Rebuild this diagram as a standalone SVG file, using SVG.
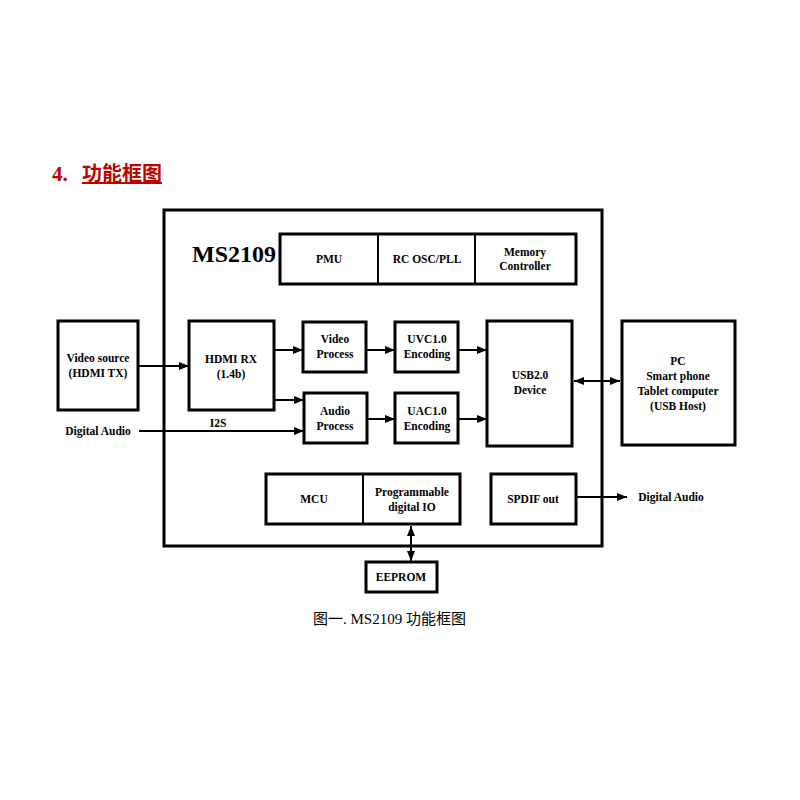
<svg xmlns="http://www.w3.org/2000/svg" width="800" height="800" viewBox="0 0 800 800">
<style>
.b{fill:#fff;stroke:#000;stroke-width:3}
.t{font-family:"Liberation Serif","Noto Sans CJK SC",serif;font-weight:bold;font-size:11.5px;text-anchor:middle;fill:#000}
.c{stroke:#000;stroke-width:2;fill:none}
</style>
<defs>
<marker id="a" viewBox="0 0 10 10" refX="10" refY="5" markerWidth="5" markerHeight="5" orient="auto-start-reverse"><path d="M0,1L10,5L0,9z" fill="#000"/></marker>
</defs>
<rect width="800" height="800" fill="#fff"/>
<text x="52" y="181" font-family="Liberation Serif,'Noto Sans CJK SC',serif" font-weight="bold" font-size="21" fill="#c00000">4.</text>
<text x="82" y="181" font-family="'Noto Sans CJK SC',serif" font-weight="bold" font-size="20" fill="#c00000" text-decoration="underline">功能框图</text>
<g id="chip"><rect class="b" x="164" y="210" width="438" height="336"/>
<text x="234" y="262" font-family="Liberation Serif,serif" font-weight="bold" font-size="24" text-anchor="middle">MS2109</text></g>
<g id="top"><rect class="b" x="280" y="234" width="296" height="50"/><line class="c" x1="378" y1="234" x2="378" y2="284" stroke-width="3"/><line class="c" x1="475" y1="234" x2="475" y2="284" stroke-width="3"/>
<text class="t" x="329" y="263">PMU</text><text class="t" x="427" y="263">RC OSC/PLL</text><text class="t" x="525" y="256">Memory</text><text class="t" x="525" y="270">Controller</text></g>
<g id="vsrc"><rect class="b" x="58" y="321" width="80" height="89"/><text class="t" x="98" y="362">Video source</text><text class="t" x="98" y="377">(HDMI TX)</text></g>
<g id="hdmi"><rect class="b" x="189" y="321" width="85" height="89"/><text class="t" x="231" y="363">HDMI RX</text><text class="t" x="231" y="378">(1.4b)</text></g>
<g id="vp"><rect class="b" x="303" y="322" width="63" height="50"/><text class="t" x="335" y="343">Video</text><text class="t" x="335" y="358">Process</text></g>
<g id="ap"><rect class="b" x="304" y="393" width="63" height="50"/><text class="t" x="335" y="415">Audio</text><text class="t" x="335" y="430">Process</text></g>
<g id="uvc"><rect class="b" x="395" y="322" width="63" height="50"/><text class="t" x="427" y="343">UVC1.0</text><text class="t" x="427" y="358">Encoding</text></g>
<g id="uac"><rect class="b" x="395" y="393" width="63" height="50"/><text class="t" x="427" y="415">UAC1.0</text><text class="t" x="427" y="430">Encoding</text></g>
<g id="usb"><rect class="b" x="487" y="321" width="85" height="125"/><text class="t" x="530" y="379">USB2.0</text><text class="t" x="530" y="394">Device</text></g>
<g id="pc"><rect class="b" x="622" y="321" width="113" height="124"/><text class="t" x="678" y="365">PC</text><text class="t" x="678" y="380">Smart phone</text><text class="t" x="678" y="395">Tablet computer</text><text class="t" x="678" y="410">(USB Host)</text></g>
<g id="mcu"><rect class="b" x="266" y="474" width="194" height="50"/><line class="c" x1="363" y1="474" x2="363" y2="524" stroke-width="3"/><text class="t" x="314" y="503">MCU</text><text class="t" x="412" y="496">Programmable</text><text class="t" x="412" y="511">digital IO</text></g>
<g id="spdif"><rect class="b" x="491" y="474" width="85" height="50"/><text class="t" x="533" y="503">SPDIF out</text></g>
<g id="eeprom"><rect class="b" x="366" y="562" width="71" height="30"/><text class="t" x="401" y="581">EEPROM</text></g>
<g id="labels"><text class="t" x="98" y="435">Digital Audio</text><text class="t" x="218" y="427">I2S</text><text class="t" x="671" y="501">Digital Audio</text></g>
<g id="connectors">
<line class="c" x1="138" y1="366" x2="189" y2="366" marker-end="url(#a)"/>
<line class="c" x1="274" y1="350" x2="303" y2="350" marker-end="url(#a)"/>
<line class="c" x1="274" y1="400" x2="304" y2="400" marker-end="url(#a)"/>
<line class="c" x1="139" y1="431" x2="304" y2="431" marker-end="url(#a)"/>
<line class="c" x1="366" y1="350" x2="395" y2="350" marker-end="url(#a)"/>
<line class="c" x1="367" y1="419" x2="395" y2="419" marker-end="url(#a)"/>
<line class="c" x1="458" y1="350" x2="487" y2="350" marker-end="url(#a)"/>
<line class="c" x1="458" y1="419" x2="487" y2="419" marker-end="url(#a)"/>
<line class="c" x1="574" y1="381" x2="620" y2="381" marker-start="url(#a)" marker-end="url(#a)"/>
<line class="c" x1="576" y1="497" x2="627" y2="497" marker-end="url(#a)"/>
<line class="c" x1="411" y1="526" x2="411" y2="561" marker-start="url(#a)" marker-end="url(#a)"/>
</g>
<text x="313" y="624" font-family="'Liberation Serif','Noto Sans CJK SC',serif" font-size="15">图一. MS2109 功能框图</text>
</svg>
